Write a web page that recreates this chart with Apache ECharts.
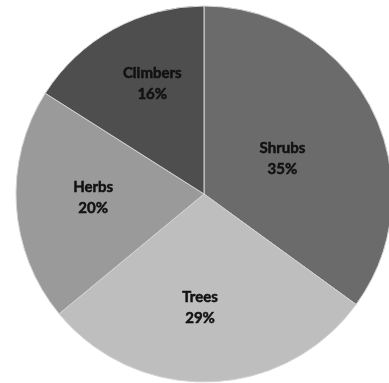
<!DOCTYPE html>
<html>
<head>
<meta charset="utf-8">
<script src="https://cdn.jsdelivr.net/npm/echarts@6/dist/echarts.min.js"></script>
<style>
  html, body { margin: 0; padding: 0; background: #ffffff; }
  #chart { width: 389px; height: 383px; }
</style>
</head>
<body>
<div id="chart"></div>
<script>
// Plant types, share of species (%)
const categories = ['Shrubs', 'Trees', 'Herbs', 'Climbers'];
const shares = [35, 29, 20, 16];

// Slice fills, in category order
const sliceColors = ['#6b6b6b', '#bebebe', '#9a9a9a', '#4e4e4e'];
// Nudge each label from its default inside spot to a best-fit spot
const labelNudges = [[-8, 9], [-7, 17], [-14, -2], [-5, -25]];

const chart = echarts.init(document.getElementById('chart'), null, { renderer: 'canvas' });

chart.setOption({
  backgroundColor: '#ffffff',
  animation: false,
  series: [{
    type: 'pie',
    center: [204, 194],
    radius: [0, 188],
    startAngle: 90,
    clockwise: true,
    avoidLabelOverlap: false,
    label: {
      show: true,
      position: 'inside',
      formatter: p => p.name + '\n' + p.value + '%',
      fontFamily: 'Lato, "Liberation Sans", sans-serif',
      fontWeight: 'bold',
      fontSize: 15,
      lineHeight: 21,
      color: '#111111',
      textBorderColor: '#111111',
      textBorderWidth: 0.5
    },
    labelLine: { show: false },
    emphasis: { disabled: true },
    itemStyle: { borderColor: '#d4d4d4', borderWidth: 1 },
    data: categories.map((name, i) => ({
      name: name,
      value: shares[i],
      itemStyle: { color: sliceColors[i] },
      label: { offset: labelNudges[i] }
    }))
  }]
});
</script>
</body>
</html>
